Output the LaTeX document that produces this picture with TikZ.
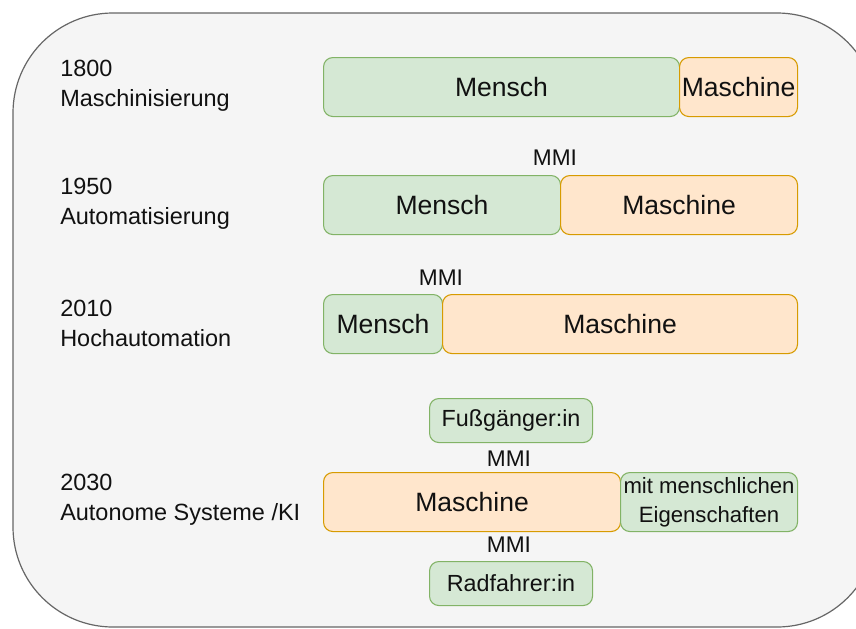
\documentclass[tikz,border=0pt]{standalone}
\usepackage{fontspec}
\setmainfont{Liberation Sans}
\definecolor{bgfill}{HTML}{F5F5F5}
\definecolor{bgline}{HTML}{666666}
\definecolor{gfill}{HTML}{D5E8D4}
\definecolor{gline}{HTML}{82B366}
\definecolor{ofill}{HTML}{FFE6CC}
\definecolor{oline}{HTML}{D79B00}
\definecolor{txt}{HTML}{111111}
\tikzset{
  sz/.style 2 args={minimum width={#1*0.75pt}, minimum height={#2*0.75pt}},
  boxbase/.style={draw, rounded corners=7pt, inner sep=0pt, anchor=north west, line width=0.8pt, text=txt, align=center},
  gbox/.style={boxbase, fill=gfill, draw=gline},
  obox/.style={boxbase, fill=ofill, draw=oline},
  bigtxt/.style={font=\fontsize{19.9}{24}\selectfont},
  smalltxt/.style={font=\fontsize{17.5}{21}\selectfont},
  eigtxt/.style={font=\fontsize{16.6}{21.75}\selectfont},
  yearlbl/.style={anchor=west, align=left, inner sep=0pt, text=txt, font=\fontsize{17.6}{22.5}\selectfont},
  mmilbl/.style={inner sep=0pt, text=txt, font=\fontsize{17}{20}\selectfont}
}
\begin{document}
\begin{tikzpicture}[x=0.75pt, y=-0.75pt]
  \useasboundingbox (0,0) rectangle (856,628);
  \clip (0,0) rectangle (856,628);
  \fill[white] (0,0) rectangle (856,628);
  \draw[fill=bgfill, draw=bgline, line width=0.9pt, rounded corners=75pt] (13,13) rectangle (877,627);

  % left labels
  \node[yearlbl] (y1) at (60,86) {1800\\Maschinisierung};
  \node[yearlbl] (y2) at (60,204) {1950\\Automatisierung};
  \node[yearlbl] (y3) at (60,323) {2010\\Hochautomation};
  \node[yearlbl] (y4) at (60,500) {2030\\Autonome Systeme /KI};

  % row 1
  \node[gbox, bigtxt, sz={356}{59}] (m1) at (323,57) {Mensch};
  \node[obox, bigtxt, sz={118}{59}] (a1) at (679,57) {Maschine};

  % row 2
  \node[mmilbl] (i2) at (555,158) {MMI};
  \node[gbox, bigtxt, sz={237}{59}] (m2) at (323,175) {Mensch};
  \node[obox, bigtxt, sz={237}{59}] (a2) at (560,175) {Maschine};

  % row 3
  \node[mmilbl] (i3) at (441,278) {MMI};
  \node[gbox, bigtxt, sz={119}{59}] (m3) at (323,294) {Mensch};
  \node[obox, bigtxt, sz={355}{59}] (a3) at (442,294) {Maschine};

  % row 4
  \node[gbox, smalltxt, sz={163}{44}] (f4) at (429,398) {Fußgänger:in};
  \node[mmilbl] (i4a) at (509,459) {MMI};
  \node[obox, bigtxt, sz={297}{59}] (a4) at (323,472) {Maschine};
  \node[gbox, eigtxt, sz={177}{59}] (e4) at (620,472) {mit menschlichen\\Eigenschaften};
  \node[mmilbl] (i4b) at (509,545) {MMI};
  \node[gbox, smalltxt, sz={163}{44}] (r4) at (429,561) {Radfahrer:in};
\end{tikzpicture}
\end{document}
